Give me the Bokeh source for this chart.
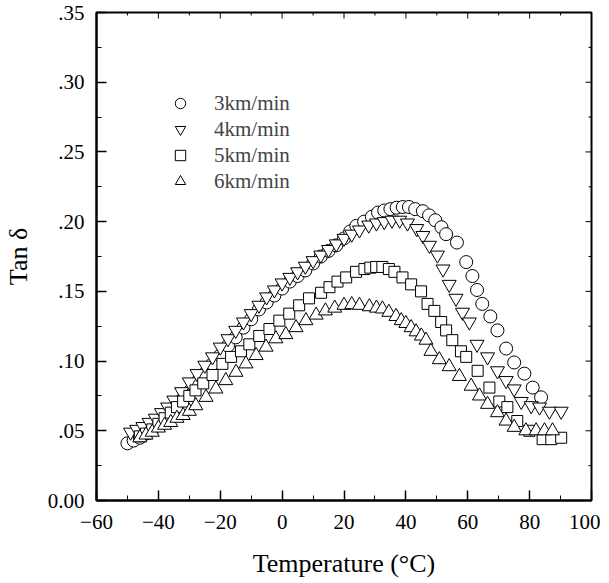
from bokeh.plotting import figure
from bokeh.models import (FixedTicker, Range1d, LinearAxis, Legend, LegendItem)
from bokeh.embed import file_html
from bokeh.resources import INLINE

# ---------------- data ----------------
t_3 = [-50, -48, -46, -44, -42, -40, -37.5, -35, -32.5, -30, -27.5, -25, -22.5, -20, -17.5, -15,
       -12.5, -10, -7.5, -5, -2.5, 0, 2.5, 5, 7.5, 10, 12.5, 15, 17.5, 20, 22, 24, 26.5, 29, 31,
       33, 35, 37, 39, 41, 43, 45.5, 47.5, 49.5, 51.5, 53, 56.5, 59.5, 61.5, 63, 64.7, 67.3, 69.6,
       72.4, 75, 78.3, 81, 83.7]
v_3 = [0.041, 0.043, 0.045, 0.048, 0.051, 0.055, 0.060, 0.066, 0.072, 0.078, 0.085, 0.091, 0.098,
       0.104, 0.111, 0.117, 0.124, 0.130, 0.137, 0.142, 0.147, 0.152, 0.157, 0.161, 0.165, 0.170,
       0.175, 0.179, 0.183, 0.188, 0.193, 0.197, 0.200, 0.2035, 0.2065, 0.208, 0.209, 0.210,
       0.2105, 0.2105, 0.209, 0.2075, 0.2045, 0.201, 0.196, 0.191, 0.185, 0.171, 0.161, 0.151,
       0.141, 0.132, 0.122, 0.109, 0.099, 0.091, 0.081, 0.074, 0.071]
t_3 = t_3[:len(v_3)]
v_3 = v_3[:len(t_3)]

t_4 = [-49, -47, -45, -43, -41, -39, -37, -35, -32.5, -30, -27.5, -25, -22.5, -20, -17.5, -15,
       -12.5, -10, -7.5, -5, -2.5, 0, 2.5, 5, 7.5, 10, 12.5, 15, 17.5, 20, 22.5, 25, 28, 30.5, 33,
       35.5, 38, 40.5, 43.5, 45.5, 47.6, 50.2, 52, 54, 56.2, 58.3, 60.5, 63, 66.4, 69.6, 72.4, 75,
       77.3, 80.5, 83.2, 86.4, 90.2]
v_4 = [0.049, 0.051, 0.053, 0.056, 0.059, 0.063, 0.067, 0.072, 0.078, 0.085, 0.091, 0.097, 0.103,
       0.110, 0.116, 0.122, 0.128, 0.134, 0.140, 0.146, 0.151, 0.156, 0.160, 0.164, 0.168, 0.172,
       0.176, 0.180, 0.184, 0.188, 0.191, 0.194, 0.1975, 0.199, 0.200, 0.201, 0.201, 0.199, 0.195,
       0.190, 0.183, 0.176, 0.166, 0.155, 0.145, 0.135, 0.128, 0.112, 0.103, 0.093, 0.086, 0.080,
       0.071, 0.068, 0.067, 0.064, 0.064]

t_5 = [-46, -44, -42, -40, -38, -36, -34, -32, -30, -28, -25.5, -22.5, -19.3, -16.5, -13.3, -10.6,
       -7.4, -4.1, -0.9, 2.3, 5.5, 8.7, 12.6, 15.3, 17.9, 20.7, 23.9, 26.6, 28.5, 30.4, 32.4, 34.5,
       36.3, 38.9, 41.7, 44.9, 47, 49.2, 51.4, 53, 55, 57.8, 59.5, 63.2, 67, 70.2, 72.8, 76, 79.9,
       84.2, 87, 90.2]
v_5 = [0.046, 0.048, 0.051, 0.055, 0.059, 0.063, 0.067, 0.071, 0.075, 0.079, 0.084, 0.090, 0.098,
       0.103, 0.107, 0.112, 0.118, 0.123, 0.129, 0.134, 0.140, 0.145, 0.149, 0.153, 0.157, 0.160,
       0.164, 0.166, 0.167, 0.1675, 0.1675, 0.166, 0.164, 0.160, 0.155, 0.150, 0.141, 0.136,
       0.128, 0.122, 0.115, 0.107, 0.103, 0.093, 0.081, 0.071, 0.067, 0.057, 0.050, 0.044,
       0.044, 0.045]

t_6 = [-46, -44, -42, -40, -38, -36, -34, -32, -30, -27.9, -24.6, -21.4, -18.2, -14.9, -11.7, -8.4,
       -5.2, -2, 1.2, 4.5, 7.7, 11, 14, 17, 20, 22.5, 25, 28.2, 30.5, 32.4, 34.5, 36.8, 38.5, 40,
       41.7, 43.3, 45, 46.5, 48.1, 50.8, 54, 57.3, 61.1, 63.8, 66.4, 69.6, 72.4, 75, 78.8, 82.1,
       84.8, 87.4]
v_6 = [0.045, 0.047, 0.049, 0.052, 0.054, 0.056, 0.059, 0.061, 0.064, 0.068, 0.074, 0.080, 0.086,
       0.092, 0.098, 0.104, 0.110, 0.116, 0.119, 0.124, 0.129, 0.133, 0.136, 0.138, 0.140, 0.1405,
       0.140, 0.139, 0.138, 0.1374, 0.135, 0.132, 0.129, 0.127, 0.124, 0.121, 0.118, 0.115, 0.107,
       0.101, 0.096, 0.089, 0.082, 0.075, 0.069, 0.063, 0.057, 0.0525, 0.050, 0.050, 0.050, 0.050]

series_labels = ["3km/min", "4km/min", "5km/min", "6km/min"]

x_ticks = [-60, -40, -20, 0, 20, 40, 60, 80, 100]
x_minor = [-50, -30, -10, 10, 30, 50, 70, 90]
y_ticks = [0.0, 0.05, 0.10, 0.15, 0.20, 0.25, 0.30, 0.35]
y_tick_labels = ["0.00", ".05", ".10", ".15", ".20", ".25", ".30", ".35"]
y_minor = [0.025, 0.075, 0.125, 0.175, 0.225, 0.275, 0.325]

FONT = "Liberation Serif"
X0, X1, Y0, Y1 = -60, 100, 0.0, 0.35
FW, FH = 495, 487  # frame size in px (for tick lengths on top/right)

# ---------------- figure ----------------
p = figure(width=600, height=580, output_backend="svg", toolbar_location=None,
           x_range=Range1d(X0, X1), y_range=Range1d(Y0, Y1),
           x_axis_location=None, y_axis_location=None,
           min_border_left=89, min_border_right=9, min_border_top=12, min_border_bottom=80)
p.grid.visible = False
p.background_fill_color = "white"
p.border_fill_color = "white"
p.outline_line_color = "black"
p.outline_line_width = 2


def style_axis(ax, ticks, minor):
    ax.ticker = FixedTicker(ticks=ticks, minor_ticks=minor)
    ax.axis_line_color = "black"
    ax.axis_line_width = 2
    ax.major_tick_in = 10
    ax.major_tick_out = 0
    ax.minor_tick_in = 5
    ax.minor_tick_out = 0
    ax.major_tick_line_width = 1.5
    ax.minor_tick_line_width = 1
    ax.major_label_text_font = FONT
    ax.major_label_text_font_size = "21px"
    ax.major_label_text_color = "black"
    ax.axis_label_text_font = FONT
    ax.axis_label_text_font_style = "normal"
    ax.axis_label_text_font_size = "26px"
    ax.axis_label_text_color = "black"


xb = LinearAxis(axis_label="Temperature (\u00b0C)")
style_axis(xb, x_ticks, x_minor)
xb.major_label_standoff = 14
xb.axis_label_standoff = 17
p.add_layout(xb, "below")

yl = LinearAxis(axis_label="Tan \u03b4")
style_axis(yl, y_ticks, y_minor)
yl.major_label_overrides = {t: s for t, s in zip(y_ticks, y_tick_labels)}
yl.major_label_standoff = 12
yl.axis_label_standoff = 12
p.add_layout(yl, "left")

# small inward ticks on the top and right frame edges
dx = (X1 - X0) / FW
dy = (Y1 - Y0) / FH
top_x = x_ticks + x_minor
p.segment(x0=top_x, x1=top_x, y0=[Y1] * len(top_x),
          y1=[Y1 - (6 if t in x_ticks else 3) * dy for t in top_x],
          line_color="black", line_width=1)
right_y = y_ticks + y_minor
p.segment(x0=[X1] * len(right_y), x1=[X1 - (6 if v in y_ticks else 3) * dx for v in right_y],
          y0=right_y, y1=right_y, line_color="black", line_width=1)

kw = dict(line_color="black", line_width=1, fill_color="white")
r3 = p.scatter(t_3, v_3, marker="circle", size=13, **kw)
r4 = p.scatter(t_4, v_4, marker="inverted_triangle", size=14, **kw)
r5 = p.scatter(t_5, v_5, marker="square", size=11, **kw)
r6 = p.scatter(t_6, v_6, marker="triangle", size=14, **kw)

legend = Legend(items=[LegendItem(label=series_labels[0], renderers=[r3]),
                       LegendItem(label=series_labels[1], renderers=[r4]),
                       LegendItem(label=series_labels[2], renderers=[r5]),
                       LegendItem(label=series_labels[3], renderers=[r6])],
                location=(71, 306), orientation="vertical",
                glyph_width=26, glyph_height=26, label_height=26, spacing=0, padding=0,
                margin=0, label_standoff=21,
                label_text_font=FONT, label_text_font_size="21px",
                border_line_color=None, background_fill_alpha=0)
p.add_layout(legend, "center")

open("out.html", "w").write(file_html(p, INLINE))
